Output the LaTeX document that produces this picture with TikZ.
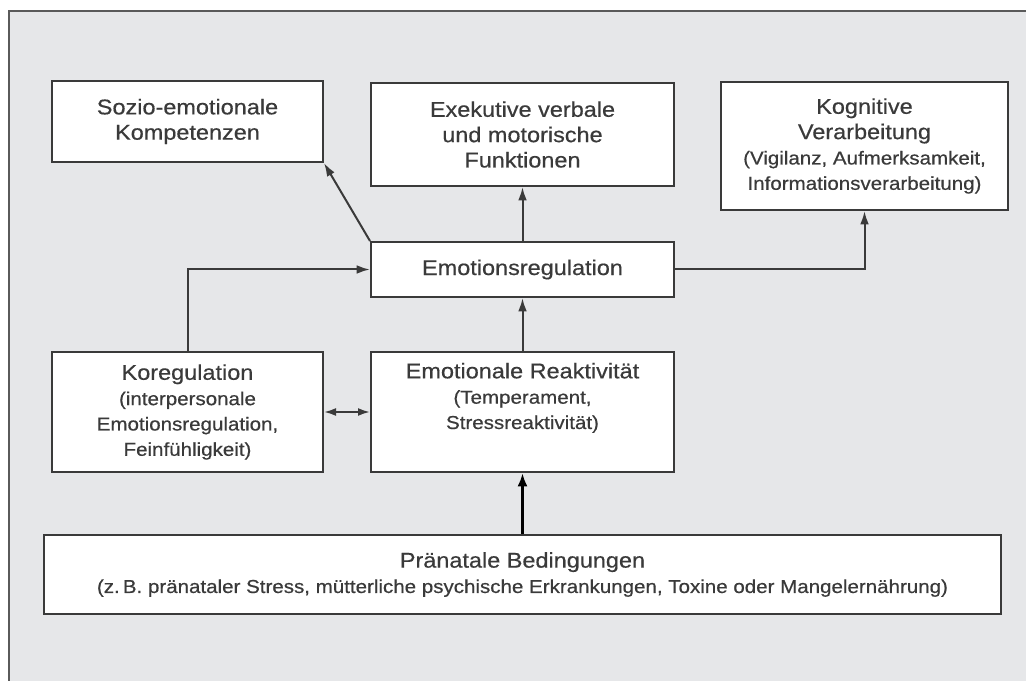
\documentclass[tikz,border=0pt]{standalone}
\usepackage{fontspec}
\setmainfont{Liberation Sans}[FakeStretch=1.1, FakeBold=0.5]
\usetikzlibrary{arrows.meta}
\definecolor{bgfill}{HTML}{E6E7E9}
\definecolor{framecol}{HTML}{5A5A5A}
\definecolor{boxline}{HTML}{3A3A3A}
\definecolor{txt}{HTML}{3A3A3A}
\newcommand{\ttlf}{\fontsize{16}{19}\selectfont}
\newcommand{\sbtf}{\fontsize{14}{17}\selectfont}
\tikzset{
  box/.style={draw=boxline, fill=white, line width=1.5pt, inner sep=0pt,
    align=center, text=txt, font=\ttlf},
  conn/.style={draw=boxline, line width=1.5pt, -{Latex[length=10pt,width=6.5pt]}},
  dconn/.style={draw=boxline, line width=1.5pt, {Latex[length=9pt,width=6pt]}-{Latex[length=9pt,width=6pt]}},
  thickconn/.style={draw=black, line width=2.6pt, -{Latex[length=10pt,width=7.5pt]}}
}
\begin{document}
\begin{tikzpicture}[x=0.75pt, y=-0.75pt]
\useasboundingbox (0,0) rectangle (1026,681);
\fill[white] (0,0) rectangle (1026,681);
\fill[bgfill] (9,11) rectangle (1026,681);
\draw[framecol, line width=1.6pt] (9,681) -- (9,11) -- (1026,11);

\node[box, minimum width=203.25pt, minimum height=60.75pt] (soz) at (187.5,121.5)
  {\ttlf Sozio-emotionale\\ \ttlf Kompetenzen};
\node[box, minimum width=227.25pt, minimum height=77.25pt] (exe) at (522.5,134.5)
  {\ttlf Exekutive verbale\\ \ttlf und motorische\\ \ttlf Funktionen};
\node[box, minimum width=215.25pt, minimum height=96pt] (kog) at (864.5,146)
  {\ttlf Kognitive\\ \ttlf Verarbeitung\\ \sbtf (Vigilanz, Aufmerksamkeit,\\ \sbtf Informationsverarbeitung)};
\node[box, minimum width=227.25pt, minimum height=41.25pt] (emr) at (522.5,269.5)
  {\ttlf Emotionsregulation};
\node[box, minimum width=203.25pt, minimum height=90pt] (kor) at (187.5,412)
  {\ttlf Koregulation\\ \sbtf (interpersonale\\ \sbtf Emotionsregulation,\\ \sbtf Feinfühligkeit)};
\node[box, minimum width=227.25pt, minimum height=90pt] (rea) at (522.5,412)
  {\ttlf Emotionale Reaktivität\\ \sbtf (Temperament,\\ \sbtf Stressreaktivität)\\ \sbtf\strut};
\node[box, minimum width=717.75pt, minimum height=59.25pt] (pra) at (522.5,574.5)
  {\ttlf Pränatale Bedingungen\\ \sbtf (z.\,B. pränataler Stress, mütterliche psychische Erkrankungen, Toxine oder Mangelernährung)};

\draw[thickconn] (pra.north) -- (rea.south);
\draw[conn] (rea.north) -- (emr.south);
\draw[conn] (emr.north) -- (exe.south);
\draw[conn] (emr.north west) -- (soz.south east);
\draw[conn] (emr.east) -| (kog.south);
\draw[conn] (kor.north) |- (emr.west);
\draw[dconn] (kor.east) -- (rea.west);
\end{tikzpicture}
\end{document}
